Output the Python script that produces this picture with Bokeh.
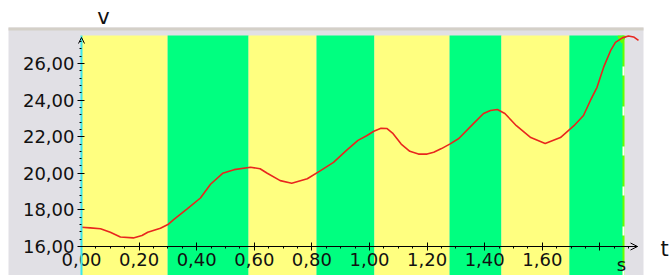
from bokeh.plotting import figure
from bokeh.models import (LinearAxis, FixedTicker, Range1d, Label, Arrow, OpenHead,
                          BoxAnnotation, CustomJSTickFormatter)
from bokeh.embed import file_html
from bokeh.resources import INLINE

# ---------------- data ----------------
band_edges = [0.0, 0.299, 0.580, 0.816, 1.017, 1.278, 1.458, 1.694, 1.882]
band_colors = ["#ffff80", "#00ff80", "#ffff80", "#00ff80",
               "#ffff80", "#00ff80", "#ffff80", "#00ff80"]

t = [0.00, 0.03, 0.066, 0.10, 0.135, 0.18, 0.21, 0.23, 0.274, 0.30, 0.32, 0.368,
     0.413, 0.448, 0.49, 0.53, 0.587, 0.62, 0.645, 0.69, 0.73, 0.784, 0.83, 0.875,
     0.92, 0.96, 0.99, 1.015, 1.04, 1.06, 1.08, 1.095, 1.11, 1.14, 1.17, 1.20,
     1.223, 1.25, 1.28, 1.31, 1.36, 1.396, 1.42, 1.444, 1.47, 1.51, 1.56, 1.61,
     1.663, 1.71, 1.743, 1.767, 1.79, 1.813, 1.837, 1.854, 1.878, 1.899, 1.917, 1.934]
v = [17.05, 17.02, 16.97, 16.78, 16.52, 16.47, 16.60, 16.78, 17.00, 17.20, 17.47, 18.07,
     18.65, 19.40, 20.00, 20.20, 20.33, 20.25, 20.00, 19.60, 19.46, 19.70, 20.15, 20.60,
     21.25, 21.80, 22.05, 22.30, 22.46, 22.45, 22.20, 21.90, 21.60, 21.20, 21.05, 21.05,
     21.15, 21.35, 21.61, 21.90, 22.70, 23.27, 23.43, 23.49, 23.27, 22.60, 21.95, 21.63,
     21.95, 22.60, 23.16, 23.98, 24.70, 25.80, 26.70, 27.15, 27.40, 27.50, 27.45, 27.26]

x_ticks = [0.0, 0.2, 0.4, 0.6, 0.8, 1.0, 1.2, 1.4, 1.6, 1.8]
x_tick_labels = ["0,00", "0,20", "0,40", "0,60", "0,80", "1,00", "1,20", "1,40", "1,60", ""]
y_ticks = [16, 18, 20, 22, 24, 26]
y_tick_labels = ["16,00", "18,00", "20,00", "22,00", "24,00", "26,00"]

x_minor = [round(0.05 * i, 2) for i in range(0, 39)]
y_minor = [round(16 + 0.4 * i, 2) for i in range(0, 29)]

# ---------------- geometry (page pixels -> data) ----------------
PX_X = 288.0      # px per unit t
PX_Y = 18.3       # px per unit v
X0 = 81           # page x of t = 0
Y16 = 246         # page y of v = 16

def dx(px):
    return (px - X0) / PX_X

def dy(py):
    return 16 + (Y16 - py) / PX_Y

W, H = 671, 275
y_lo = dy(H)
y_plot_top = dy(35)

p = figure(width=W, height=H, output_backend="svg", toolbar_location=None,
           x_axis_type=None, y_axis_type=None,
           x_range=Range1d(dx(0), dx(W)), y_range=Range1d(dy(H), dy(0)),
           min_border=0, min_border_top=0, min_border_right=0,
           min_border_left=0, min_border_bottom=0)
p.grid.visible = False
p.outline_line_color = None
p.background_fill_color = "white"
p.border_fill_color = "white"

# grey panel and its darker top band
p.add_layout(BoxAnnotation(left=dx(8), right=dx(643), bottom=y_lo, top=dy(27),
                           fill_color="#e1e0e5", fill_alpha=1.0, line_color=None,
                           level="underlay"))
p.add_layout(BoxAnnotation(left=dx(8), right=dx(643), bottom=dy(30), top=dy(27),
                           fill_color="#d4d0c8", fill_alpha=1.0, line_color=None,
                           level="underlay"))

# coloured bands
p.quad(left=band_edges[:-1], right=band_edges[1:], bottom=y_lo, top=y_plot_top,
       fill_color=band_colors, line_color=None)

# end cursor line
t_end = band_edges[-1]
p.segment(x0=[t_end], y0=[y_lo], x1=[t_end], y1=[y_plot_top],
          line_color="#66ff00", line_width=2)
p.segment(x0=[t_end], y0=[y_plot_top], x1=[t_end], y1=[y_lo],
          line_color="white", line_width=2, line_dash="9 31", line_dash_offset=9)
p.scatter(x=[t_end - 0.006], y=[dy(38)], marker="inverted_triangle", size=8,
          fill_color="#66ff00", line_color="#66ff00")

# curve
p.line(t, v, line_color="#e8261e", line_width=1.6)

label_font = "DejaVu Sans"

def make_formatter(vals, labels):
    return CustomJSTickFormatter(args=dict(tvals=vals, tlabels=labels), code="""
        for (let i = 0; i < tvals.length; i++) {
            if (Math.abs(tvals[i] - tick) < 1e-9) { return tlabels[i]; }
        }
        return "";
    """)

# x axis inside the frame at v = 16
xaxis = LinearAxis(fixed_location=16,
                   ticker=FixedTicker(ticks=x_ticks, minor_ticks=x_minor),
                   formatter=make_formatter(x_ticks, x_tick_labels),
                   bounds=(0, dx(637)))
xaxis.axis_line_color = "black"
xaxis.axis_line_width = 1
xaxis.major_tick_in = 4
xaxis.major_tick_out = 4
xaxis.major_tick_line_color = "black"
xaxis.minor_tick_in = 0
xaxis.minor_tick_out = 2
xaxis.minor_tick_line_color = "black"
xaxis.major_label_text_font = label_font
xaxis.major_label_text_font_size = "18px"
xaxis.major_label_text_color = "#111111"
xaxis.major_label_standoff = 2
p.add_layout(xaxis, "below")

# y axis at t = 0
yaxis = LinearAxis(fixed_location=0,
                   ticker=FixedTicker(ticks=y_ticks, minor_ticks=y_minor),
                   formatter=make_formatter(y_ticks, y_tick_labels),
                   bounds=(y_lo, y_plot_top))
yaxis.axis_line_color = "#3ce6ec"
yaxis.axis_line_width = 2
yaxis.major_tick_in = 3
yaxis.major_tick_out = 4
yaxis.major_tick_line_color = "black"
yaxis.minor_tick_in = 0
yaxis.minor_tick_out = 2
yaxis.minor_tick_line_color = "black"
yaxis.major_label_text_font = label_font
yaxis.major_label_text_font_size = "18px"
yaxis.major_label_text_color = "#111111"
yaxis.major_label_standoff = 3
p.add_layout(yaxis, "left")

# axis arrows
p.add_layout(Arrow(end=OpenHead(size=7, line_color="black", line_width=1),
                   x_start=dx(625), y_start=16, x_end=dx(637), y_end=16,
                   line_color="black", line_width=1))
p.add_layout(Arrow(end=OpenHead(size=6, line_color="black", line_width=1),
                   x_start=0, y_start=dy(45), x_end=0, y_end=dy(37),
                   line_alpha=0))

# axis titles and unit
p.add_layout(Label(x=dx(103), y=dy(16), text="v", text_font=label_font,
                   text_font_size="21px", text_align="center", text_baseline="middle",
                   text_color="#111111"))
p.add_layout(Label(x=dx(664), y=dy(248), text="t", text_font=label_font,
                   text_font_size="21px", text_align="center", text_baseline="middle",
                   text_color="#111111"))
p.add_layout(Label(x=dx(621), y=dy(274), text="s", text_font=label_font,
                   text_font_size="18px", text_align="center", text_baseline="bottom",
                   text_color="#111111"))

open("out.html", "w").write(file_html(p, INLINE))
